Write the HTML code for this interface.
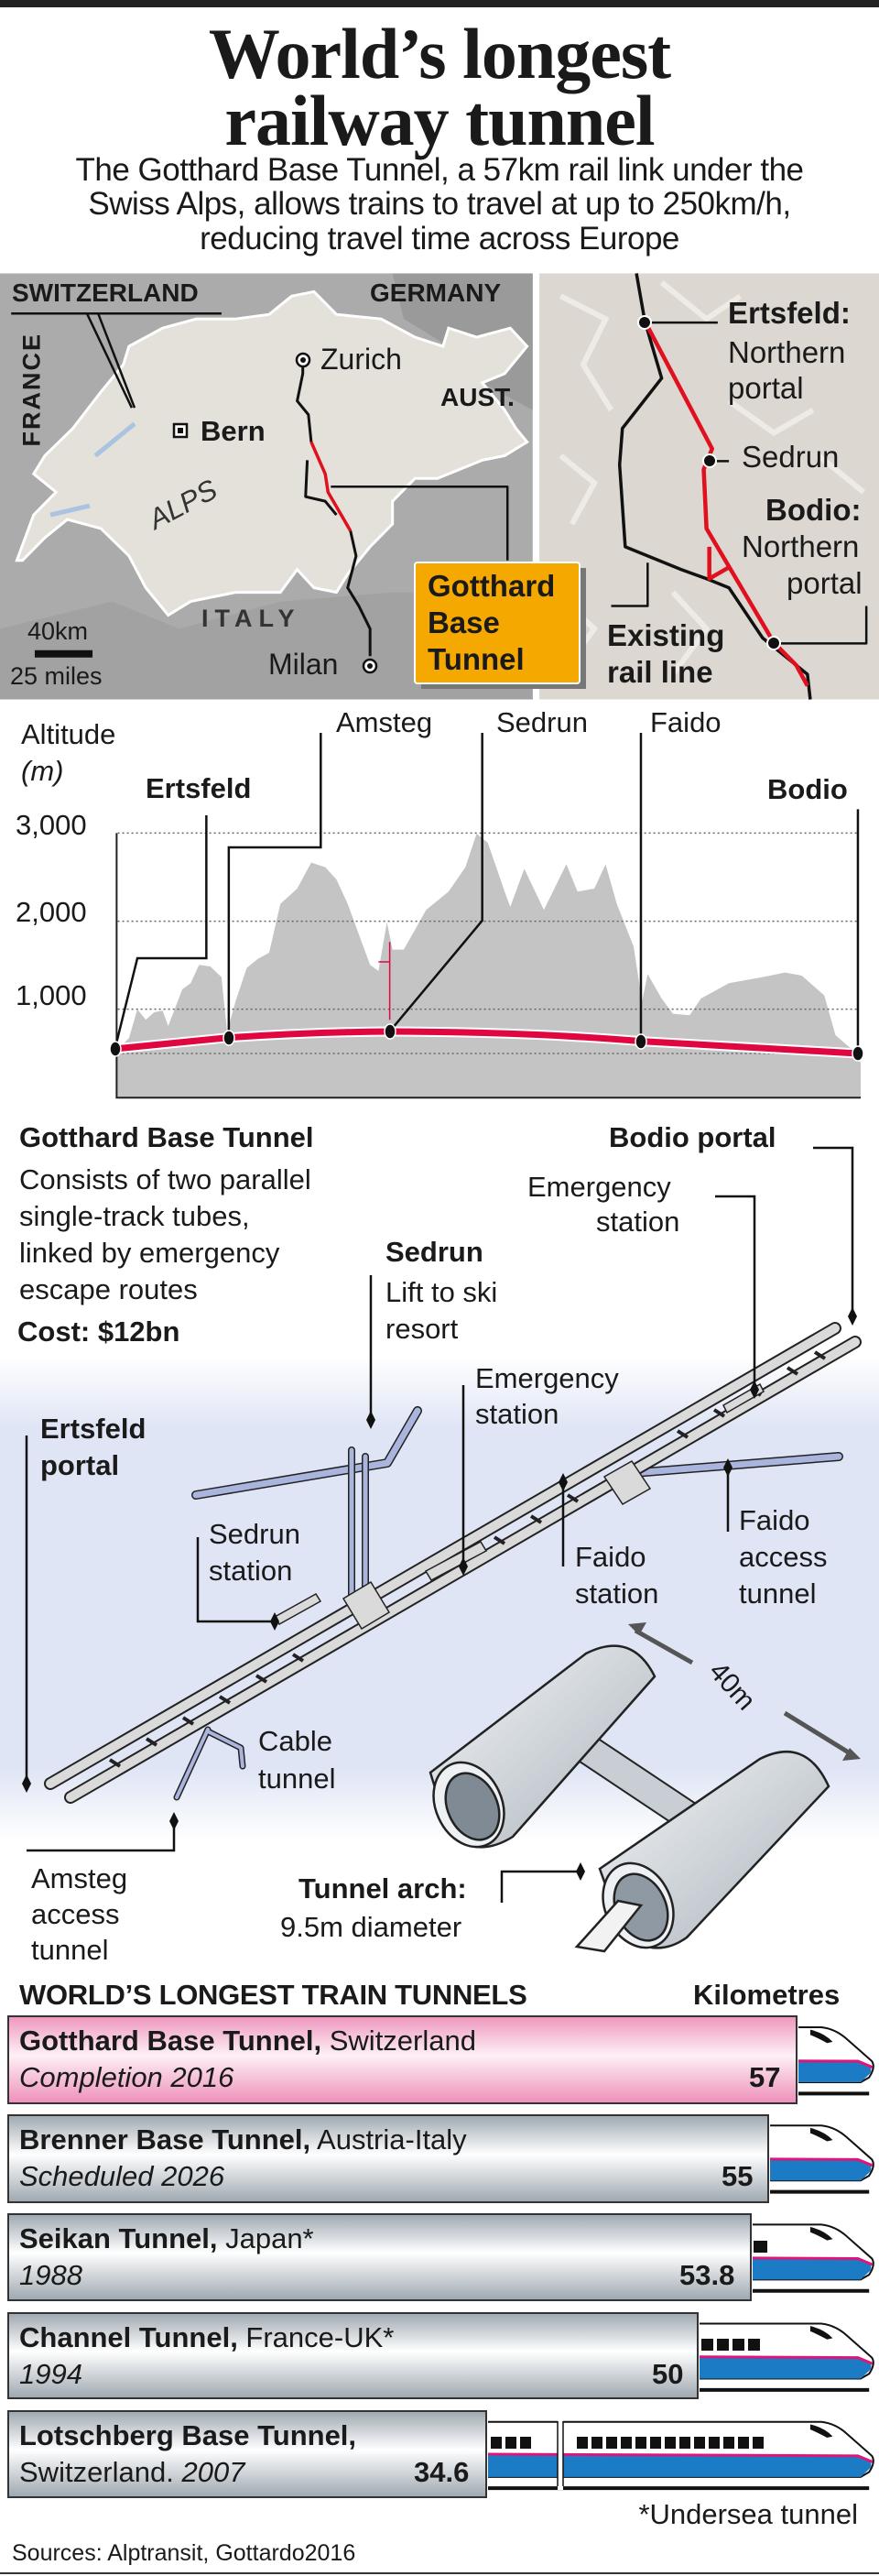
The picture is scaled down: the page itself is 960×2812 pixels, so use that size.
<!DOCTYPE html>
<html><head><meta charset="utf-8"><style>
*{margin:0;padding:0;box-sizing:border-box}
body{width:960px;height:2812px;position:relative;background:#fff;font-family:"Liberation Sans",Arial,sans-serif;color:#1a1a1a;overflow:hidden}
.t{position:absolute;white-space:nowrap;line-height:1}
.b{font-weight:bold}
.i{font-style:italic}
svg{position:absolute;left:0;top:0}
</style></head><body>
<svg width="960" height="2812" viewBox="0 0 960 2812">
<defs>
<linearGradient id="diag" x1="0" y1="1480" x2="0" y2="2010" gradientUnits="userSpaceOnUse">
<stop offset="0" stop-color="#fff"/><stop offset="0.15" stop-color="#dfe5f5"/><stop offset="0.85" stop-color="#dfe5f5"/><stop offset="1" stop-color="#fff"/></linearGradient>
<linearGradient id="pink" x1="0" y1="0" x2="0" y2="1"><stop offset="0" stop-color="#ee96bd"/><stop offset="0.45" stop-color="#fdf0f6"/><stop offset="1" stop-color="#ee8fb9"/></linearGradient>
<linearGradient id="gray" x1="0" y1="0" x2="0" y2="1"><stop offset="0" stop-color="#9ea8b0"/><stop offset="0.45" stop-color="#ffffff"/><stop offset="1" stop-color="#9ea8b0"/></linearGradient>
<linearGradient id="tube" x1="0" y1="0" x2="1" y2="1"><stop offset="0" stop-color="#f4f6f8"/><stop offset="1" stop-color="#a9b2ba"/></linearGradient>
<g id="tr">
<path d="M0,26 H1465 Q1490,30 1510,55 L1555,110 Q1562,125 1550,150 L1535,162 H0Z" fill="#fff" stroke="#111" stroke-width="2" vector-effect="non-scaling-stroke"/>
<path d="M0,100 L1530,110 Q1560,120 1552,140 L1535,162 H0Z" fill="#1b7bc4"/>
<path d="M0,100 L1530,110 L1556,125" fill="none" stroke="#e0157a" stroke-width="3" vector-effect="non-scaling-stroke"/>
<path d="M1445,32 Q1470,40 1485,62 L1475,65 Q1455,50 1445,45Z" fill="#111"/>
<path d="M0,190 H1550" stroke="#111" stroke-width="4" vector-effect="non-scaling-stroke"/>
</g>
<clipPath id="c1"><rect x="872" y="2200" width="90" height="100"/></clipPath>
<clipPath id="c2"><rect x="841" y="2308" width="120" height="100"/></clipPath>
<clipPath id="c3"><rect x="822" y="2415" width="140" height="100"/></clipPath>
<clipPath id="c4"><rect x="764" y="2523" width="200" height="100"/></clipPath>
<clipPath id="c5"><rect x="533" y="2630" width="430" height="100"/></clipPath>
</defs>
<rect x="0" y="0" width="960" height="8" fill="#222"/>
<rect x="0" y="1480" width="960" height="530" fill="url(#diag)"/>

<!-- MAPS (zoom1 coords) -->
<g transform="scale(0.6124,0.4974)">
<rect x="0" y="600" width="950" height="935" fill="#ababab"/>
<path d="M700,600 L950,600 L950,900 L860,840 L800,760 L720,700 Z" fill="#9a9a9a"/>
<path d="M0,1380 L200,1320 L320,1380 L500,1320 L700,1300 L950,1300 L950,1535 L0,1535Z" fill="#a2a2a2"/>
<path d="M30,1230 L60,1130 L100,1080 L60,1040 L80,1000 L130,940 L180,860 L220,800 L230,760 L290,720 L350,700 L420,700 L480,690 L520,650 L560,640 L600,690 L680,700 L740,740 L790,760 L800,720 L850,740 L910,720 L940,760 L900,820 L860,840 L900,900 L920,940 L940,970 L900,1000 L860,1010 L820,1030 L780,1050 L740,1050 L700,1100 L700,1150 L660,1200 L620,1260 L600,1300 L560,1290 L530,1250 L500,1300 L420,1300 L340,1320 L300,1350 L260,1290 L230,1220 L180,1160 L120,1140 L80,1180 L40,1230Z" fill="#e4e1da" stroke="#fff" stroke-width="3" vector-effect="non-scaling-stroke"/>
<path d="M170,1000 L240,930" stroke="#a9c4e0" stroke-width="5" vector-effect="non-scaling-stroke"/>
<path d="M90,1130 L160,1110" stroke="#a9c4e0" stroke-width="5" vector-effect="non-scaling-stroke"/>
<rect x="962" y="600" width="998" height="935" fill="#dcd7d1"/>
<path d="M1000,650 L1080,700 L1040,800 L1090,900 M1180,620 L1260,700 L1320,650 M1000,1000 L1060,1060 L1020,1150 M1300,880 L1380,950 L1450,900 M1200,1300 L1260,1380 L1200,1480 M1460,1000 L1540,1080 M990,1300 L1060,1380 L1000,1480" stroke="#eeebe7" stroke-width="6" fill="none" vector-effect="non-scaling-stroke"/>
<g fill="none" stroke-linejoin="round">
<path d="M540,790 L540,820 L530,880 L550,910 L555,970 M548,1010 L545,1090 L580,1100 L600,1130 M625,1165 L635,1220 L620,1290 L640,1330 L660,1380 L660,1440" stroke="#111" stroke-width="3" vector-effect="non-scaling-stroke"/>
<path d="M555,970 L580,1040 L585,1080 L625,1165" stroke="#e0101e" stroke-width="3.5" vector-effect="non-scaling-stroke"/>
<path d="M590,1068 L905,1068 L905,1230 M20,688 L395,688 M155,688 L235,895 M175,688 L240,895" stroke="#111" stroke-width="2.5" vector-effect="non-scaling-stroke"/>
<path d="M62,1435 L165,1435" stroke="#111" stroke-width="8" vector-effect="non-scaling-stroke"/>
<path d="M1135,600 L1150,705 L1180,830 L1110,940 L1105,1020 L1115,1200 L1215,1250 L1260,1270 L1300,1290 L1360,1400 L1440,1480 L1445,1535" stroke="#111" stroke-width="3.5" vector-effect="non-scaling-stroke"/>
<path d="M1150,705 L1270,985 L1255,1030 L1260,1160 L1380,1410 L1420,1460 L1440,1505 M1265,1200 L1265,1270 L1300,1245" stroke="#e0101e" stroke-width="4.5" vector-effect="non-scaling-stroke"/>
<path d="M1150,708 L1280,708 M1265,1012 L1300,1012 M1380,1412 L1545,1412 L1545,1330 M1155,1235 L1155,1330 L1090,1330" stroke="#111" stroke-width="2.5" vector-effect="non-scaling-stroke"/>
</g>
</g>
<circle cx="331" cy="393" r="7" fill="#fff" stroke="#111" stroke-width="2.5"/><circle cx="331" cy="393" r="3" fill="#111"/>
<circle cx="404" cy="727" r="7" fill="#fff" stroke="#111" stroke-width="2.5"/><circle cx="404" cy="727" r="3" fill="#111"/>
<rect x="190" y="463" width="14" height="14" fill="#fff" stroke="#111" stroke-width="2.5"/><rect x="194" y="467" width="6" height="6" fill="#111"/>
<circle cx="704" cy="352" r="7" fill="#111" stroke="#fff" stroke-width="2"/>
<circle cx="775" cy="503" r="7" fill="#111" stroke="#fff" stroke-width="2"/>
<circle cx="845" cy="702" r="7" fill="#111" stroke="#fff" stroke-width="2"/>
<rect x="460" y="620" width="180" height="132" fill="#777"/>
<rect x="453" y="614" width="180" height="132" rx="3" fill="#f5a800" stroke="#fff" stroke-width="2"/>

<!-- PROFILE (zoom2 coords) -->
<g transform="translate(0,760) scale(0.6124,0.3333)">
<path d="M208,1315 L208,1160 L230,1120 L245,1025 L260,1060 L275,1035 L290,1030 L300,1080 L325,960 L340,940 L355,880 L375,885 L395,920 L405,1100 L420,1000 L440,890 L460,860 L480,840 L500,680 L530,630 L555,545 L580,560 L600,600 L620,680 L640,780 L660,880 L675,900 L690,740 L700,830 L720,830 L760,700 L800,640 L830,560 L850,450 L870,480 L900,640 L910,690 L935,565 L970,700 L1010,550 L1030,640 L1060,630 L1080,550 L1100,680 L1130,820 L1145,1000 L1155,910 L1180,990 L1200,1040 L1230,1045 L1250,990 L1300,940 L1360,920 L1400,905 L1430,915 L1470,980 L1490,1110 L1515,1150 L1535,1200 L1535,1315 Z" fill="#c4c4c4"/>
<path d="M210,448 L1530,448 M210,737 L1530,737 M210,1025 L1530,1025 M210,1170 L1530,1170" stroke="#666" stroke-width="1.5" stroke-dasharray="2,3" vector-effect="non-scaling-stroke"/>
<path d="M208,448 L208,1315 L1535,1315" fill="none" stroke="#222" stroke-width="2" vector-effect="non-scaling-stroke"/>
<path d="M205,1155 L408,1118 Q560,1100 695,1098 Q950,1100 1143,1130 L1530,1170" fill="none" stroke="#fff" stroke-width="11" vector-effect="non-scaling-stroke"/>
<path d="M205,1155 L408,1118 Q560,1100 695,1098 Q950,1100 1143,1130 L1530,1170" fill="none" stroke="#e0063f" stroke-width="7" vector-effect="non-scaling-stroke"/>
<path d="M695,805 L695,1060 M675,870 L695,870" stroke="#e0063f" stroke-width="1.5" fill="none" vector-effect="non-scaling-stroke"/>
<g fill="none" stroke="#111">
<path d="M368,390 L368,858 L245,858 L205,1155" stroke-width="2.5" vector-effect="non-scaling-stroke"/>
<path d="M572,120 L572,495 L408,495 L408,1118" stroke-width="2.5" vector-effect="non-scaling-stroke"/>
<path d="M860,120 L860,735 L695,1098" stroke-width="2.5" vector-effect="non-scaling-stroke"/>
<path d="M1143,120 L1143,1130" stroke-width="2.5" vector-effect="non-scaling-stroke"/>
<path d="M1530,370 L1530,1170" stroke-width="2.5" vector-effect="non-scaling-stroke"/>
</g>
</g>
<g fill="#111" stroke="#fff" stroke-width="1.5">
<ellipse cx="126" cy="1145" rx="6" ry="8"/><ellipse cx="250" cy="1133" rx="6" ry="8"/><ellipse cx="426" cy="1126" rx="6" ry="8"/><ellipse cx="700" cy="1137" rx="6" ry="8"/><ellipse cx="937" cy="1150" rx="6" ry="8"/>
</g>

<!-- 3D TUNNEL DIAGRAM -->
<g fill="none" stroke-linecap="round" stroke-linejoin="round">
<path d="M214,1632 L423,1597 L456,1540" stroke="#222" stroke-width="10"/>
<path d="M214,1632 L423,1597 L456,1540" stroke="#a9b5dd" stroke-width="7"/>
<path d="M384,1583 L384,1740 M399,1590 L399,1740" stroke="#222" stroke-width="8"/>
<path d="M384,1583 L384,1740 M399,1590 L399,1740" stroke="#a9b5dd" stroke-width="5"/>
<path d="M692,1608 L916,1590" stroke="#222" stroke-width="10"/>
<path d="M692,1608 L916,1590" stroke="#a9b5dd" stroke-width="7"/>
<path d="M227,1888 L193,1962 M227,1890 L263,1908 L265,1928" stroke="#222" stroke-width="7"/>
<path d="M227,1888 L193,1962 M227,1890 L263,1908 L265,1928" stroke="#a9b5dd" stroke-width="4"/>
<path d="M55,1947 L912,1450 M77,1962 L934,1465" stroke="#222" stroke-width="14"/>
<path d="M55,1947 L912,1450 M77,1962 L934,1465" stroke="#dadada" stroke-width="10"/>
</g>
<g stroke="#222" stroke-width="1.5" fill="#dadada">
<path d="M120,1921 L131,1928 M160,1898 L171,1905 M200,1875 L211,1882 M240,1852 L251,1859 M280,1829 L291,1836 M320,1806 L331,1813 M540,1678 L551,1685 M580,1655 L591,1662 M620,1632 L631,1639 M740,1562 L751,1569 M780,1539 L791,1546 M820,1516 L831,1523 M860,1493 L871,1500 M890,1476 L901,1483" stroke-width="4"/>
<path d="M375,1745 L405,1727 L425,1760 L395,1778Z"/>
<path d="M660,1612 L690,1595 L710,1625 L680,1642Z"/>
<path d="M300,1765 L345,1740 L350,1748 L305,1773Z"/>
<path d="M790,1534 L830,1511 L834,1519 L794,1542Z"/>
<path d="M465,1715 L525,1683 L531,1693 L471,1725Z"/>
</g>
<g stroke="#111" stroke-width="2.5" fill="none">
<path d="M888,1253 L931,1253 L931,1433 M781,1306 L824,1306 L824,1513 M405,1392 L405,1550 M506,1512 L506,1710 M29,1567 L29,1947 M795,1602 L795,1672 M216,1678 L216,1770 L300,1770 M615,1618 L615,1710 M190,1988 L190,2020 L29,2020 M548,2077 L548,2043 L634,2043"/>
</g>
<g fill="#111">
<path d="M931,1427 l5,10 l-5,10 l-5,-10z M824,1507 l5,10 l-5,10 l-5,-10z M405,1540 l5,10 l-5,10 l-5,-10z M506,1700 l5,10 l-5,10 l-5,-10z M29,1937 l5,10 l-5,10 l-5,-10z M795,1592 l5,10 l-5,10 l-5,-10z M300,1760 l5,10 l-5,10 l-5,-10z M615,1608 l5,10 l-5,10 l-5,-10z M190,1978 l5,10 l-5,10 l-5,-10z M634,2033 l5,10 l-5,10 l-5,-10z"/>
</g>
<g stroke="#555" stroke-width="5" fill="#555">
<path d="M694,1780 L756,1815"/><path d="M686,1773 l20,-2 l-8,14z" stroke="none"/>
<path d="M857,1870 L930,1915"/><path d="M940,1920 l-20,2 l8,-14z" stroke="none"/>
</g>
<!-- H tubes -->
<path d="M620,1895 L770,1995" stroke="#222" stroke-width="34" stroke-linecap="butt"/>
<path d="M620,1895 L770,1995" stroke="#c8ced4" stroke-width="30" stroke-linecap="butt"/>
<g stroke="#222" stroke-width="2.5">
<path d="M470,1935 L640,1805 Q690,1780 715,1830 L560,2005 Q520,2030 490,2000Z" fill="url(#tube)"/>
<ellipse cx="512" cy="1970" rx="36" ry="48" transform="rotate(-25 512 1970)" fill="#eef1f4"/>
<ellipse cx="516" cy="1972" rx="27" ry="38" transform="rotate(-25 516 1972)" fill="#7f8a94"/>
<path d="M655,2040 L830,1920 Q880,1895 905,1950 L750,2115 Q715,2140 680,2110Z" fill="url(#tube)"/>
<ellipse cx="697" cy="2080" rx="36" ry="48" transform="rotate(-25 697 2080)" fill="#eef1f4"/>
<ellipse cx="700" cy="2082" rx="27" ry="38" transform="rotate(-25 700 2082)" fill="#8e99a3"/>
<path d="M630,2125 L675,2075 L700,2080 L660,2130Z" fill="#f2f2f2"/>
</g>

<!-- BARS -->
<g stroke="#333" stroke-width="2">
<rect x="9" y="2201" width="861" height="95" fill="url(#pink)"/>
<rect x="9" y="2309" width="830" height="95" fill="url(#gray)"/>
<rect x="9" y="2417" width="811" height="94" fill="url(#gray)"/>
<rect x="9" y="2525" width="753" height="93" fill="url(#gray)"/>
<rect x="9" y="2632" width="522" height="94" fill="url(#gray)"/>
</g>
<line x1="0" y1="2809" x2="960" y2="2809" stroke="#333" stroke-width="2"/>
<g clip-path="url(#c1)"><use href="#tr" transform="translate(0,2130) scale(0.6124,0.4414) translate(0,162)"/></g>
<g clip-path="url(#c2)"><use href="#tr" transform="translate(0,2130) scale(0.6124,0.4414) translate(0,405)"/></g>
<g clip-path="url(#c3)"><use href="#tr" transform="translate(0,2130) scale(0.6124,0.4414) translate(0,650)"/></g>
<g clip-path="url(#c4)"><use href="#tr" transform="translate(0,2130) scale(0.6124,0.4414) translate(0,895)"/></g>
<g clip-path="url(#c5)"><use href="#tr" transform="translate(0,2130) scale(0.6124,0.4414) translate(0,1138)"/></g>
<g fill="#111">
<rect x="823" y="2446" width="15" height="13"/>
<rect x="766" y="2553" width="13" height="13"/><rect x="783" y="2553" width="13" height="13"/><rect x="800" y="2553" width="13" height="13"/><rect x="817" y="2553" width="13" height="13"/>
<rect x="536" y="2660" width="12" height="13"/><rect x="552" y="2660" width="12" height="13"/><rect x="568" y="2660" width="12" height="13"/>
<rect x="630" y="2660" width="12" height="13"/><rect x="646" y="2660" width="12" height="13"/><rect x="662" y="2660" width="12" height="13"/><rect x="678" y="2660" width="12" height="13"/><rect x="694" y="2660" width="12" height="13"/><rect x="710" y="2660" width="12" height="13"/><rect x="726" y="2660" width="12" height="13"/><rect x="742" y="2660" width="12" height="13"/><rect x="758" y="2660" width="12" height="13"/><rect x="774" y="2660" width="12" height="13"/><rect x="790" y="2660" width="12" height="13"/><rect x="806" y="2660" width="12" height="13"/><rect x="822" y="2660" width="12" height="13"/>
</g>
<rect x="609" y="2640" width="6" height="78" fill="#fff"/>
<line x1="609" y1="2643" x2="609" y2="2714" stroke="#111" stroke-width="1.5"/><line x1="615" y1="2643" x2="615" y2="2714" stroke="#111" stroke-width="1.5"/>
</svg>

<!-- TEXT -->
<div class="t b" style="left:0;width:960px;text-align:center;top:20px;font-family:'Liberation Serif',serif;font-size:78px;letter-spacing:-1px">World’s longest</div>
<div class="t b" style="left:0;width:960px;text-align:center;top:93px;font-family:'Liberation Serif',serif;font-size:78px;letter-spacing:-1px">railway tunnel</div>
<div class="t" style="left:0;width:960px;text-align:center;top:168px;font-size:35px;letter-spacing:-0.5px">The Gotthard Base Tunnel, a 57km rail link under the</div>
<div class="t" style="left:0;width:960px;text-align:center;top:205px;font-size:35px;letter-spacing:-0.5px">Swiss Alps, allows trains to travel at up to 250km/h,</div>
<div class="t" style="left:0;width:960px;text-align:center;top:243px;font-size:35px;letter-spacing:-0.5px">reducing travel time across Europe</div>

<div class="t b" style="left:13px;top:306px;font-size:28px">SWITZERLAND</div>
<div class="t b" style="left:404px;top:306px;font-size:28px">GERMANY</div>
<div class="t b" style="left:481px;top:420px;font-size:28px">AUST.</div>
<div class="t b" style="left:-15px;top:424px;font-size:27px;letter-spacing:2px;transform:rotate(-90deg);width:100px;text-align:center">FRANCE</div>
<div class="t b" style="left:220px;top:662px;font-size:27px;letter-spacing:7px;color:#333">ITALY</div>
<div class="t" style="left:350px;top:376px;font-size:32px">Zurich</div>
<div class="t b" style="left:219px;top:455px;font-size:31px">Bern</div>
<div class="t" style="left:293px;top:709px;font-size:32px">Milan</div>
<div class="t i" style="left:160px;top:535px;font-size:31px;color:#333;transform:rotate(-28deg)">ALPS</div>
<div class="t" style="left:30px;top:676px;font-size:27px">40km</div>
<div class="t" style="left:11px;top:725px;font-size:27px">25 miles</div>
<div class="t b" style="left:467px;top:620px;font-size:33px;line-height:40px">Gotthard<br>Base<br>Tunnel</div>
<div class="t b" style="left:795px;top:325px;font-size:33px">Ertsfeld:</div>
<div class="t" style="left:795px;top:365px;font-size:33px;line-height:39px">Northern<br>portal</div>
<div class="t" style="left:810px;top:482px;font-size:33px">Sedrun</div>
<div class="t b" style="left:836px;top:540px;font-size:33px">Bodio:</div>
<div class="t" style="left:810px;top:580px;font-size:33px">Northern</div>
<div class="t" style="left:859px;top:620px;font-size:33px">portal</div>
<div class="t b" style="left:663px;top:674px;font-size:33px;line-height:40px">Existing<br>rail line</div>

<div class="t" style="left:23px;top:786px;font-size:31px">Altitude</div>
<div class="t i" style="left:23px;top:826px;font-size:31px">(m)</div>
<div class="t b" style="left:159px;top:845px;font-size:31px">Ertsfeld</div>
<div class="t b" style="left:838px;top:846px;font-size:31px">Bodio</div>
<div class="t" style="left:367px;top:773px;font-size:31px">Amsteg</div>
<div class="t" style="left:542px;top:773px;font-size:31px">Sedrun</div>
<div class="t" style="left:710px;top:773px;font-size:31px">Faido</div>
<div class="t" style="left:17px;top:885px;font-size:31px">3,000</div>
<div class="t" style="left:17px;top:980px;font-size:31px">2,000</div>
<div class="t" style="left:17px;top:1071px;font-size:31px">1,000</div>

<div class="t b" style="left:21px;top:1226px;font-size:31px">Gotthard Base Tunnel</div>
<div class="t" style="left:21px;top:1268px;font-size:31px;line-height:40px">Consists of two parallel<br>single-track tubes,<br>linked by emergency<br>escape routes</div>
<div class="t b" style="left:19px;top:1438px;font-size:31px">Cost: $12bn</div>
<div class="t b" style="left:665px;top:1226px;font-size:31px">Bodio portal</div>
<div class="t" style="left:576px;top:1280px;font-size:31px">Emergency</div>
<div class="t" style="left:651px;top:1318px;font-size:31px">station</div>
<div class="t b" style="left:421px;top:1351px;font-size:31px">Sedrun</div>
<div class="t" style="left:421px;top:1391px;font-size:31px;line-height:40px">Lift to ski<br>resort</div>
<div class="t" style="left:519px;top:1485px;font-size:31px;line-height:39px">Emergency<br>station</div>
<div class="t b" style="left:44px;top:1540px;font-size:31px;line-height:40px">Ertsfeld<br>portal</div>
<div class="t" style="left:807px;top:1640px;font-size:31px;line-height:40px">Faido<br>access<br>tunnel</div>
<div class="t" style="left:228px;top:1655px;font-size:31px;line-height:40px">Sedrun<br>station</div>
<div class="t" style="left:628px;top:1680px;font-size:31px;line-height:40px">Faido<br>station</div>
<div class="t" style="left:282px;top:1880px;font-size:31px;line-height:41px">Cable<br>tunnel</div>
<div class="t" style="left:34px;top:2031px;font-size:31px;line-height:39px">Amsteg<br>access<br>tunnel</div>
<div class="t b" style="left:326px;top:2046px;font-size:31px">Tunnel arch:</div>
<div class="t" style="left:306px;top:2088px;font-size:31px">9.5m diameter</div>
<div class="t" style="left:770px;top:1826px;font-size:30px;transform:rotate(48deg)">40m</div>

<div class="t b" style="left:21px;top:2162px;font-size:31px;letter-spacing:-0.3px">WORLD’S LONGEST TRAIN TUNNELS</div>
<div class="t b" style="left:757px;top:2162px;font-size:31px">Kilometres</div>
<div class="t" style="left:21px;top:2212px;font-size:31px"><b>Gotthard Base Tunnel,</b> Switzerland</div>
<div class="t i" style="left:21px;top:2252px;font-size:31px">Completion 2016</div>
<div class="t b" style="left:818px;top:2252px;font-size:31px">57</div>
<div class="t" style="left:21px;top:2320px;font-size:31px"><b>Brenner Base Tunnel,</b> Austria-Italy</div>
<div class="t i" style="left:21px;top:2360px;font-size:31px">Scheduled 2026</div>
<div class="t b" style="left:788px;top:2360px;font-size:31px">55</div>
<div class="t" style="left:21px;top:2428px;font-size:31px"><b>Seikan Tunnel,</b> Japan*</div>
<div class="t i" style="left:21px;top:2468px;font-size:31px">1988</div>
<div class="t b" style="left:742px;top:2468px;font-size:31px">53.8</div>
<div class="t" style="left:21px;top:2536px;font-size:31px"><b>Channel Tunnel,</b> France-UK*</div>
<div class="t i" style="left:21px;top:2576px;font-size:31px">1994</div>
<div class="t b" style="left:712px;top:2576px;font-size:31px">50</div>
<div class="t b" style="left:21px;top:2643px;font-size:31px">Lotschberg Base Tunnel,</div>
<div class="t" style="left:21px;top:2683px;font-size:31px">Switzerland. <i>2007</i></div>
<div class="t b" style="left:452px;top:2683px;font-size:31px">34.6</div>
<div class="t" style="left:660px;top:2729px;font-size:31px;width:277px;text-align:right">*Undersea tunnel</div>
<div class="t" style="left:13px;top:2775px;font-size:25px">Sources: Alptransit, Gottardo2016</div>
</body></html>
